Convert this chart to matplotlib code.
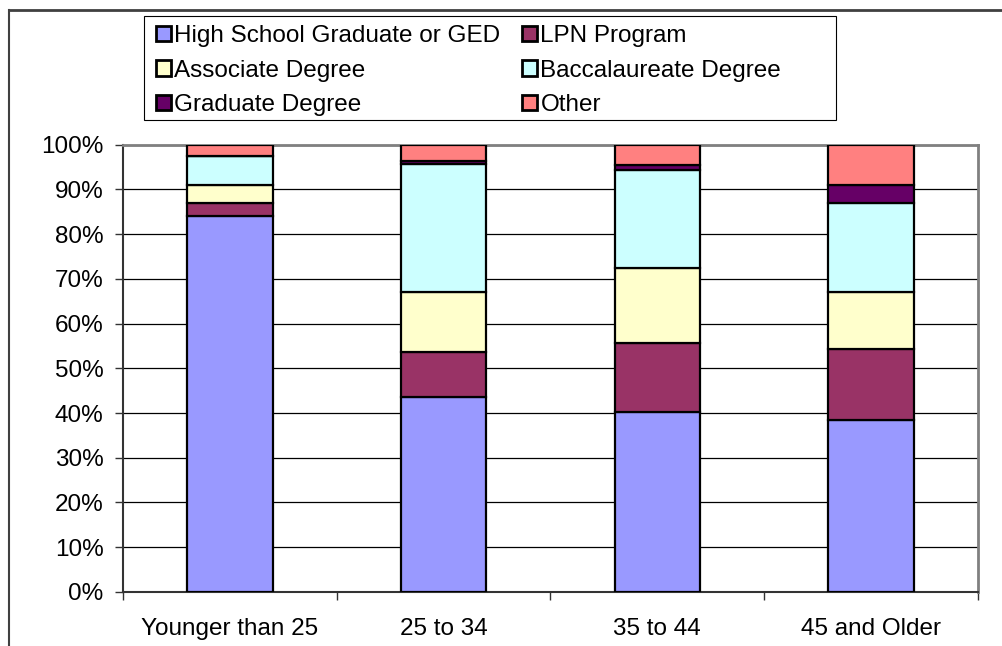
import numpy as np
import matplotlib.pyplot as plt
from matplotlib.lines import Line2D
from matplotlib.patches import Rectangle

plt.rcParams['font.family'] = ['Liberation Sans', 'DejaVu Sans']

age_groups = ["Younger than 25", "25 to 34", "35 to 44", "45 and Older"]
series_names = ["High School Graduate or GED", "LPN Program", "Associate Degree",
                "Baccalaureate Degree", "Graduate Degree", "Other"]

# percent of respondents in each age group
high_school = [84.0, 43.6, 40.3, 38.5]
lpn = [3.0, 10.1, 15.3, 15.8]
associate = [4.0, 13.4, 16.9, 12.8]
baccalaureate = [6.5, 28.6, 21.7, 19.9]
graduate = [0.0, 0.7, 1.3, 4.0]
other = [2.5, 3.6, 4.5, 9.0]

colors = ["#9999FF", "#993366", "#FFFFCC", "#CCFFFF", "#660066", "#FF8080"]
FS = 17.5

fig = plt.figure(figsize=(10.03, 6.46), dpi=100)
ax = fig.add_axes([0.1226, 0.0836, 0.8524, 0.6927])

x = np.arange(len(age_groups))
bottom = np.zeros(len(age_groups))
bars = []
for vals, name, c in zip([high_school, lpn, associate, baccalaureate, graduate, other],
                         series_names, colors):
    vals = np.array(vals) / 100.0
    b = ax.bar(x, vals, 0.4, bottom=bottom, color=c, edgecolor="black",
               linewidth=1.6, label=name, zorder=3)
    bars.append(b)
    bottom += vals

ax.set_xlim(-0.5, 3.5)
ax.set_ylim(0, 1.0)
ax.set_yticks(np.linspace(0, 1, 11))
ax.set_yticklabels(["{}%".format(i * 10) for i in range(11)], fontsize=FS)
ax.yaxis.grid(True, color="black", linewidth=0.9, zorder=0)
ax.tick_params(axis="y", direction="out", length=6, width=1, color="#333333", pad=8)

# category boundaries as tick marks, labels centred under the bars
ax.set_xticks(np.arange(-0.5, 4.0, 1.0))
ax.set_xticklabels([])
ax.set_xticks(x, minor=True)
ax.set_xticklabels(age_groups, minor=True, fontsize=FS)
ax.tick_params(axis="x", which="major", direction="out", length=6, width=1, color="#333333")
ax.tick_params(axis="x", which="minor", length=0, pad=19)

for side in ["top", "right"]:
    ax.spines[side].set_color("#808080")
    ax.spines[side].set_linewidth(2)
ax.spines["left"].set_color("#333333")
ax.spines["left"].set_linewidth(1.5)
ax.spines["bottom"].set_color("#333333")
ax.spines["bottom"].set_linewidth(1.5)

order = [0, 2, 4, 1, 3, 5]
leg = fig.legend([bars[i] for i in order], [series_names[i] for i in order],
                 ncol=2, loc="upper left", bbox_to_anchor=(156 / 1003, 1 - 25 / 646),
                 fontsize=FS, frameon=False, handlelength=0.6, handleheight=0.6,
                 handletextpad=0.15, labelspacing=0.52, borderaxespad=0,
                 borderpad=0.0, columnspacing=0.9)
for h in leg.legend_handles:
    h.set_linewidth(2)

# legend box
fig.add_artist(Rectangle((144 / 1003, 1 - 120 / 646), 692 / 1003, 104 / 646,
                         transform=fig.transFigure, fill=False, edgecolor="black",
                         linewidth=0.8))

# outer chart border (left and top edges)
fig.add_artist(Line2D([9 / 1003, 9 / 1003], [0, 1 - 10 / 646], color="#404040",
                      linewidth=1.5, transform=fig.transFigure))
fig.add_artist(Line2D([9 / 1003, 1], [1 - 10 / 646, 1 - 10 / 646], color="#404040",
                      linewidth=2, transform=fig.transFigure))

fig.savefig("out.png", dpi=100)
